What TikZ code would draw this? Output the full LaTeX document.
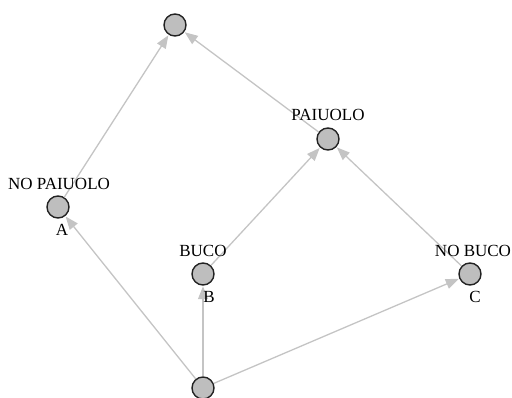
\documentclass[tikz,border=0pt]{standalone}
\usepackage{fontspec}
\setmainfont{Liberation Serif}
\usetikzlibrary{arrows.meta}
\definecolor{nodefill}{HTML}{BEBEBE}
\definecolor{edgegray}{HTML}{C4C4C4}
\definecolor{rimdark}{HTML}{222222}
\begin{document}
\begin{tikzpicture}[x=1pt,y=-1pt,
  vert/.style={circle,draw=rimdark,fill=nodefill,line width=1.4pt,minimum size=22pt,inner sep=0pt},
  lbl/.style={font=\fontsize{17}{17}\selectfont,inner sep=0pt,text=black},
  edge/.style={draw=edgegray,line width=1.3pt,-{Triangle[length=13pt,width=10pt]},shorten >=0.5pt}]
\useasboundingbox (0,0) rectangle (512,398);
% lattice vertices
\node[vert] (top) at (175,25) {};
\node[vert] (pai) at (328,139) {};
\node[vert] (npa) at (58,207) {};
\node[vert] (buc) at (203,274) {};
\node[vert] (nbu) at (470,274) {};
\node[vert] (bot) at (203,388) {};
% order relations
\draw[edge] (bot) -- (npa);
\draw[edge] (bot) -- (buc);
\draw[edge] (bot) -- (nbu);
\draw[edge] (npa) -- (top);
\draw[edge] (buc) -- (pai);
\draw[edge] (nbu) -- (pai);
\draw[edge] (pai) -- (top);
% labels
\node[lbl] (lpai) at (328,115) {PAIUOLO};
\node[lbl] (lnpa) at (59,184) {NO PAIUOLO};
\node[lbl] (la) at (62,230) {A};
\node[lbl] (lbuc) at (203,251) {BUCO};
\node[lbl] (lb) at (209,297) {B};
\node[lbl] (lnbu) at (473,251) {NO BUCO};
\node[lbl] (lc) at (475,297) {C};
\end{tikzpicture}
\end{document}
